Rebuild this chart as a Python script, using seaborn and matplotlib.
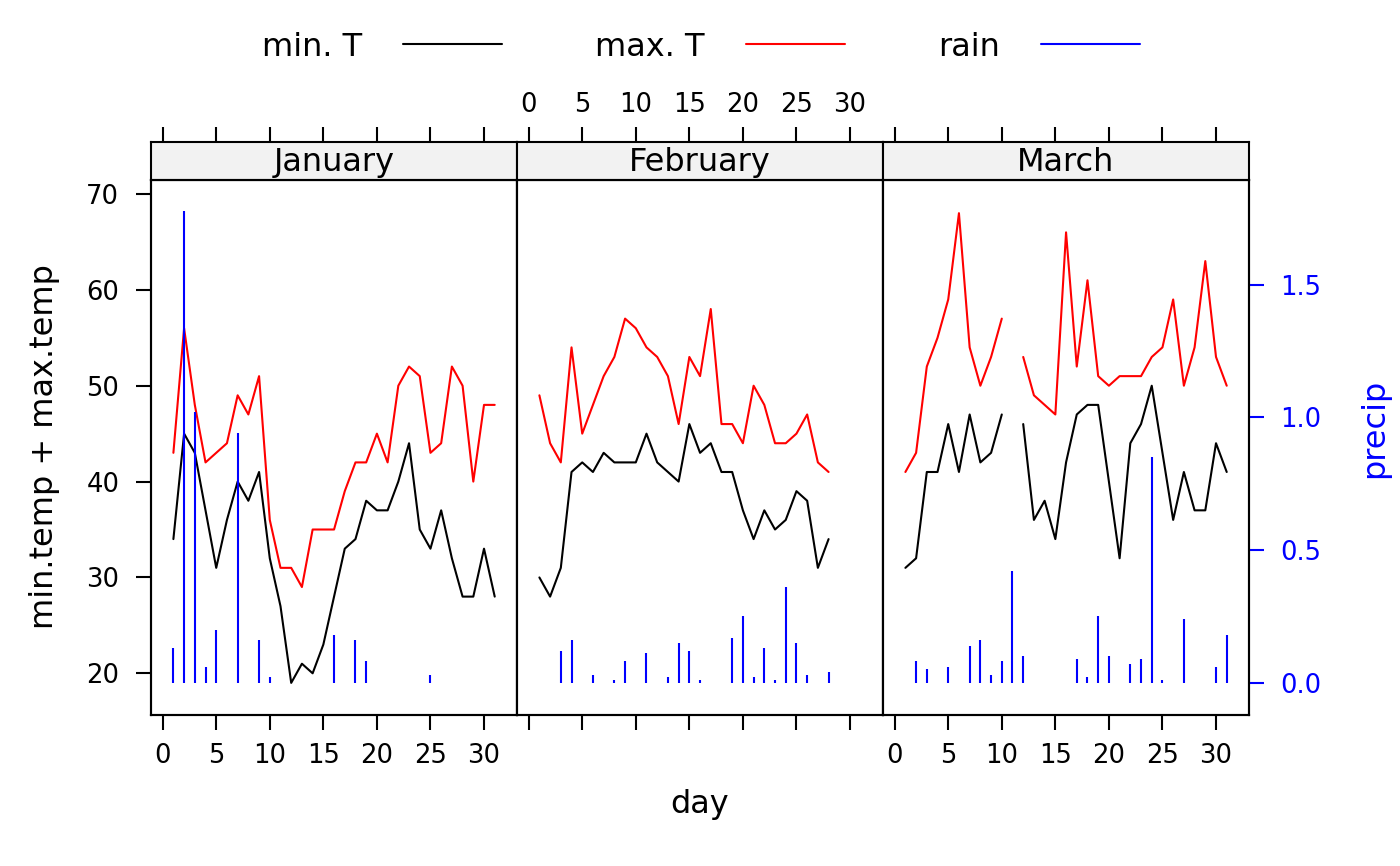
import matplotlib
matplotlib.use("Agg")
import matplotlib.pyplot as plt
import numpy as np
import pandas as pd
import seaborn as sns
from matplotlib.lines import Line2D

# ---- data --------------------------------------------------------------
months = ["January", "February", "March"]

jan_days = list(range(1, 32))
jan_min = [34, 45, 43, 37, 31, 36, 40, 38, 41, 32, 27, 19, 21, 20, 23, 28,
           33, 34, 38, 37, 37, 40, 44, 35, 33, 37, 32, 28, 28, 33, 28]
jan_max = [43, 56, 48, 42, 43, 44, 49, 47, 51, 36, 31, 31, 29, 35, 35, 35,
           39, 42, 42, 45, 42, 50, 52, 51, 43, 44, 52, 50, 40, 48, 48]
jan_rain = [0.13, 1.78, 1.02, 0.06, 0.20, 0, 0.94, 0, 0.16, 0.02, 0, 0, 0,
            0, 0, 0.18, 0, 0.16, 0.08, 0, 0, 0, 0, 0, 0.03, 0, 0, 0, 0, 0, 0]

feb_days = list(range(1, 29))
feb_min = [30, 28, 31, 41, 42, 41, 43, 42, 42, 42, 45, 42, 41, 40, 46, 43,
           44, 41, 41, 37, 34, 37, 35, 36, 39, 38, 31, 34]
feb_max = [49, 44, 42, 54, 45, 48, 51, 53, 57, 56, 54, 53, 51, 46, 53, 51,
           58, 46, 46, 44, 50, 48, 44, 44, 45, 47, 42, 41]
feb_rain = [0, 0, 0.12, 0.16, 0, 0.03, 0, 0.01, 0.08, 0, 0.11, 0, 0.02,
            0.15, 0.12, 0.01, 0, 0, 0.17, 0.25, 0.02, 0.13, 0.01, 0.36,
            0.15, 0.03, 0, 0.04]

mar_days = list(range(1, 32))
mar_min = [31, 32, 41, 41, 46, 41, 47, 42, 43, 47, np.nan, 46, 36, 38, 34,
           42, 47, 48, 48, 40, 32, 44, 46, 50, 43, 36, 41, 37, 37, 44, 41]
mar_max = [41, 43, 52, 55, 59, 68, 54, 50, 53, 57, np.nan, 53, 49, 48, 47,
           66, 52, 61, 51, 50, 51, 51, 51, 53, 54, 59, 50, 54, 63, 53, 50]
mar_rain = [0, 0.08, 0.05, 0, 0.06, 0, 0.14, 0.16, 0.03, 0.08, 0.42, 0.10,
            0, 0, 0, 0, 0.09, 0.02, 0.25, 0.10, 0, 0.07, 0.09, 0.85, 0.01,
            0, 0.24, 0, 0, 0.06, 0.18]

panels = [
    (jan_days, jan_min, jan_max, jan_rain),
    (feb_days, feb_min, feb_max, feb_rain),
    (mar_days, mar_min, mar_max, mar_rain),
]

# long table for seaborn, with a segment id so a missing day breaks the line
rows = []
for month, (days, mn, mx, _) in zip(months, panels):
    for name, vals in (("min. T", mn), ("max. T", mx)):
        gap = 0
        for d, v in zip(days, vals):
            if np.isnan(v):
                gap += 1
                continue
            rows.append(dict(month=month, day=d, series=name, temp=v,
                             seg=f"{name}-{gap}"))
temps = pd.DataFrame(rows)

# ---- figure -------------------------------------------------------------
sns.set_style("white")
plt.rcParams["font.family"] = ["DejaVu Sans"]
plt.rcParams["axes.linewidth"] = 0.75
plt.rcParams["text.color"] = "black"
plt.rcParams["axes.edgecolor"] = "black"

W, H = 1400, 866
fig = plt.figure(figsize=(7, 4.33), dpi=200)

XLIM = (-1.09, 33.08)
YLIM = (15.65, 71.46)
RLIM = (-0.122, 1.895)
XT = [0, 5, 10, 15, 20, 25, 30]
TICK_FS = 9.3
palette = {"min. T": "black", "max. T": "red"}
tick_kw = dict(direction="out", length=5.4, width=0.75, labelsize=TICK_FS,
               colors="black")

for i, (month, (days, mn, mx, rain)) in enumerate(zip(months, panels)):
    x0 = 151 + 366 * i
    ax = fig.add_axes([x0 / W, (H - 715) / H, 366 / W, 535 / H])
    strip = fig.add_axes([x0 / W, (H - 180) / H, 366 / W, 38 / H])

    sub = temps[temps["month"] == month]
    sns.lineplot(data=sub, x="day", y="temp", hue="series", units="seg",
                 estimator=None, sort=False, palette=palette, linewidth=0.75,
                 legend=False, ax=ax)

    ax2 = ax.twinx()
    ax2.vlines(days, 0, rain, color="blue", linewidth=0.75)

    ax.set_xlim(*XLIM)
    ax.set_ylim(*YLIM)
    ax.set_xlabel("")
    ax.set_ylabel("")
    ax.set_xticks(XT)
    ax.set_yticks([20, 30, 40, 50, 60, 70])
    ax.tick_params(axis="x", pad=4.8, bottom=True, top=False,
                   labelbottom=(i != 1), **tick_kw)
    ax.tick_params(axis="y", pad=6, left=(i == 0), right=False,
                   labelleft=(i == 0), **tick_kw)

    ax2.set_ylim(*RLIM)
    ax2.set_xlim(*XLIM)
    ax2.set_yticks([0.0, 0.5, 1.0, 1.5])
    ax2.set_yticklabels(["0.0", "0.5", "1.0", "1.5"])
    ax2.tick_params(axis="y", direction="out", length=5.4, width=0.75,
                    labelsize=TICK_FS, pad=5.8, colors="blue", left=False,
                    labelleft=False, right=(i == 2), labelright=(i == 2))
    for sp in ax2.spines.values():
        sp.set_color("black")
        sp.set_linewidth(0.75)

    # strip with the month name; its top edge carries the upper ticks
    strip.set_facecolor("#F2F2F2")
    strip.set_xlim(*XLIM)
    strip.set_xticks(XT)
    strip.set_yticks([])
    strip.tick_params(axis="x", top=True, bottom=False, labeltop=(i == 1),
                      labelbottom=False, pad=3.3, **tick_kw)
    strip.text(0.5, 0.47, month, transform=strip.transAxes, ha="center",
               va="center", fontsize=11.5)
    for sp in strip.spines.values():
        sp.set_linewidth(0.75)

fig.text(0.5, 1 - 805 / H, "day", ha="center", va="center", fontsize=11.5)
fig.text(45 / W, 1 - 447 / H, "min.temp + max.temp", rotation=90,
         ha="center", va="center", fontsize=11.5)
fig.text(1375 / W, 1 - 428 / H, "precip", rotation=90, ha="center",
         va="center", fontsize=11.5, color="blue")

handles = [Line2D([], [], color=c, linewidth=0.75)
           for c in ("black", "red", "blue")]
fig.legend(handles, ["min. T", "max. T", "rain"], ncol=3, markerfirst=False,
           loc="center", bbox_to_anchor=(701 / W, 1 - 47 / H), frameon=False,
           fontsize=11.5, handlelength=3.1, handletextpad=1.3,
           columnspacing=2.9)

fig.savefig("out.png", dpi=200)
